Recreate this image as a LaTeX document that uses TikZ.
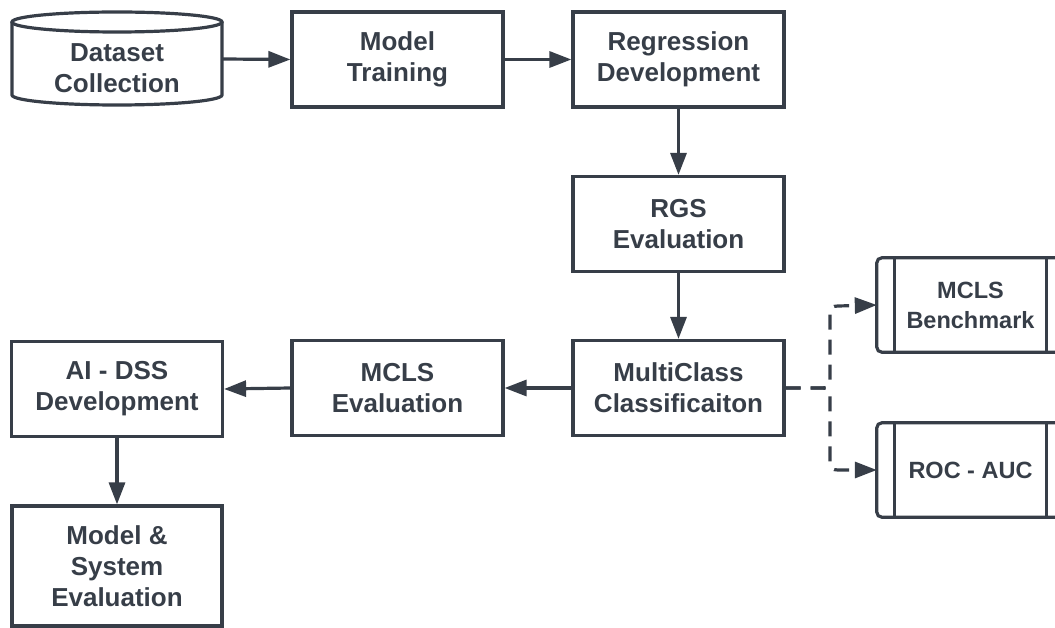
\documentclass[tikz,border=0pt]{standalone}
\usepackage{fontspec}
\setmainfont{Liberation Sans}
\usetikzlibrary{arrows.meta}
\definecolor{ink}{HTML}{373E48}
\begin{document}
\begin{tikzpicture}[x=1pt,y=-1pt,
  box/.style={draw=ink, line width=3.2pt, minimum width=211pt, minimum height=95pt, inner sep=0pt, text=ink, align=center, font=\fontsize{26}{31}\selectfont\bfseries},
  conn/.style={draw=ink, line width=3.2pt, -{Triangle[length=22pt,width=16pt]}},
  proc/.style={draw=ink, line width=3.2pt, rounded corners=5pt},
  lbl/.style={text=ink, align=center, font=\fontsize{26}{31}\selectfont\bfseries},
  plbl/.style={text=ink, align=center, font=\fontsize{23.5}{30}\selectfont\bfseries, minimum width=187pt, minimum height=94pt, inner sep=0pt}]
\useasboundingbox (0,0) rectangle (1055,628);
\clip (0,0) rectangle (1055,628);
% cylinder
\node[lbl, minimum width=210pt, minimum height=93pt, inner sep=0pt] (ds) at (117,59) {};
\node[lbl] (dst) at (117,68) {Dataset\\Collection};
\draw[ink, line width=3.2pt] (12,22) -- (12,95) arc[start angle=180, end angle=360, x radius=105pt, y radius=10pt] -- (222,22);
\draw[ink, line width=3.2pt] (117,22) ellipse[x radius=105pt, y radius=10pt];
% boxes
\node[box] (mt) at (397.5,59.5) {Model\\Training};
\node[box] (rd) at (678.5,59.5) {Regression\\Development};
\node[box] (rgs) at (678.5,224) {RGS\\Evaluation};
\node[box] (mc) at (678.5,388) {MultiClass\\Classificaiton};
\node[box] (me) at (397.5,388) {MCLS\\Evaluation};
\node[box] (ai) at (117,389) {AI - DSS\\Development};
\node[box, minimum width=210pt, minimum height=120pt] (ms) at (117,566) {Model \&\\System\\Evaluation};
% predefined process boxes
\node[plbl] (mb) at (970.5,305) {MCLS\\Benchmark};
\draw[proc] (mb.north west) rectangle (mb.south east);
\draw[ink, line width=3.2pt] ([xshift=18pt]mb.north west) -- ([xshift=18pt]mb.south west);
\draw[ink, line width=3.2pt] ([xshift=-18pt]mb.north east) -- ([xshift=-18pt]mb.south east);
\node[plbl] (roc) at (970.5,470) {ROC - AUC};
\draw[proc] (roc.north west) rectangle (roc.south east);
\draw[ink, line width=3.2pt] ([xshift=18pt]roc.north west) -- ([xshift=18pt]roc.south west);
\draw[ink, line width=3.2pt] ([xshift=-18pt]roc.north east) -- ([xshift=-18pt]roc.south east);
% connectors
\draw[conn] (ds.east) -- (mt.west);
\draw[conn] (mt.east) -- (rd.west);
\draw[conn] (rd.south) -- (rgs.north);
\draw[conn] (rgs.south) -- (mc.north);
\draw[conn] (mc.west) -- (me.east);
\draw[conn] (me.west) -- (ai.east);
\draw[conn] (ai.south) -- (ms.north);
% dashed brace
\coordinate (tip) at (822,388);
\draw[conn, dash pattern=on 15pt off 10pt] (mc.east) -- (tip) .. controls (828,388) and (830,386) .. (830,380) -- (830,314) .. controls (830,308) and (832,306) .. (838,306) -- (mb.west);
\draw[conn, dash pattern=on 15pt off 10pt] (mc.east) -- (tip) .. controls (828,388) and (830,390) .. (830,396) -- (830,462) .. controls (830,468) and (832,470) .. (838,470) -- (roc.west);
\end{tikzpicture}
\end{document}
